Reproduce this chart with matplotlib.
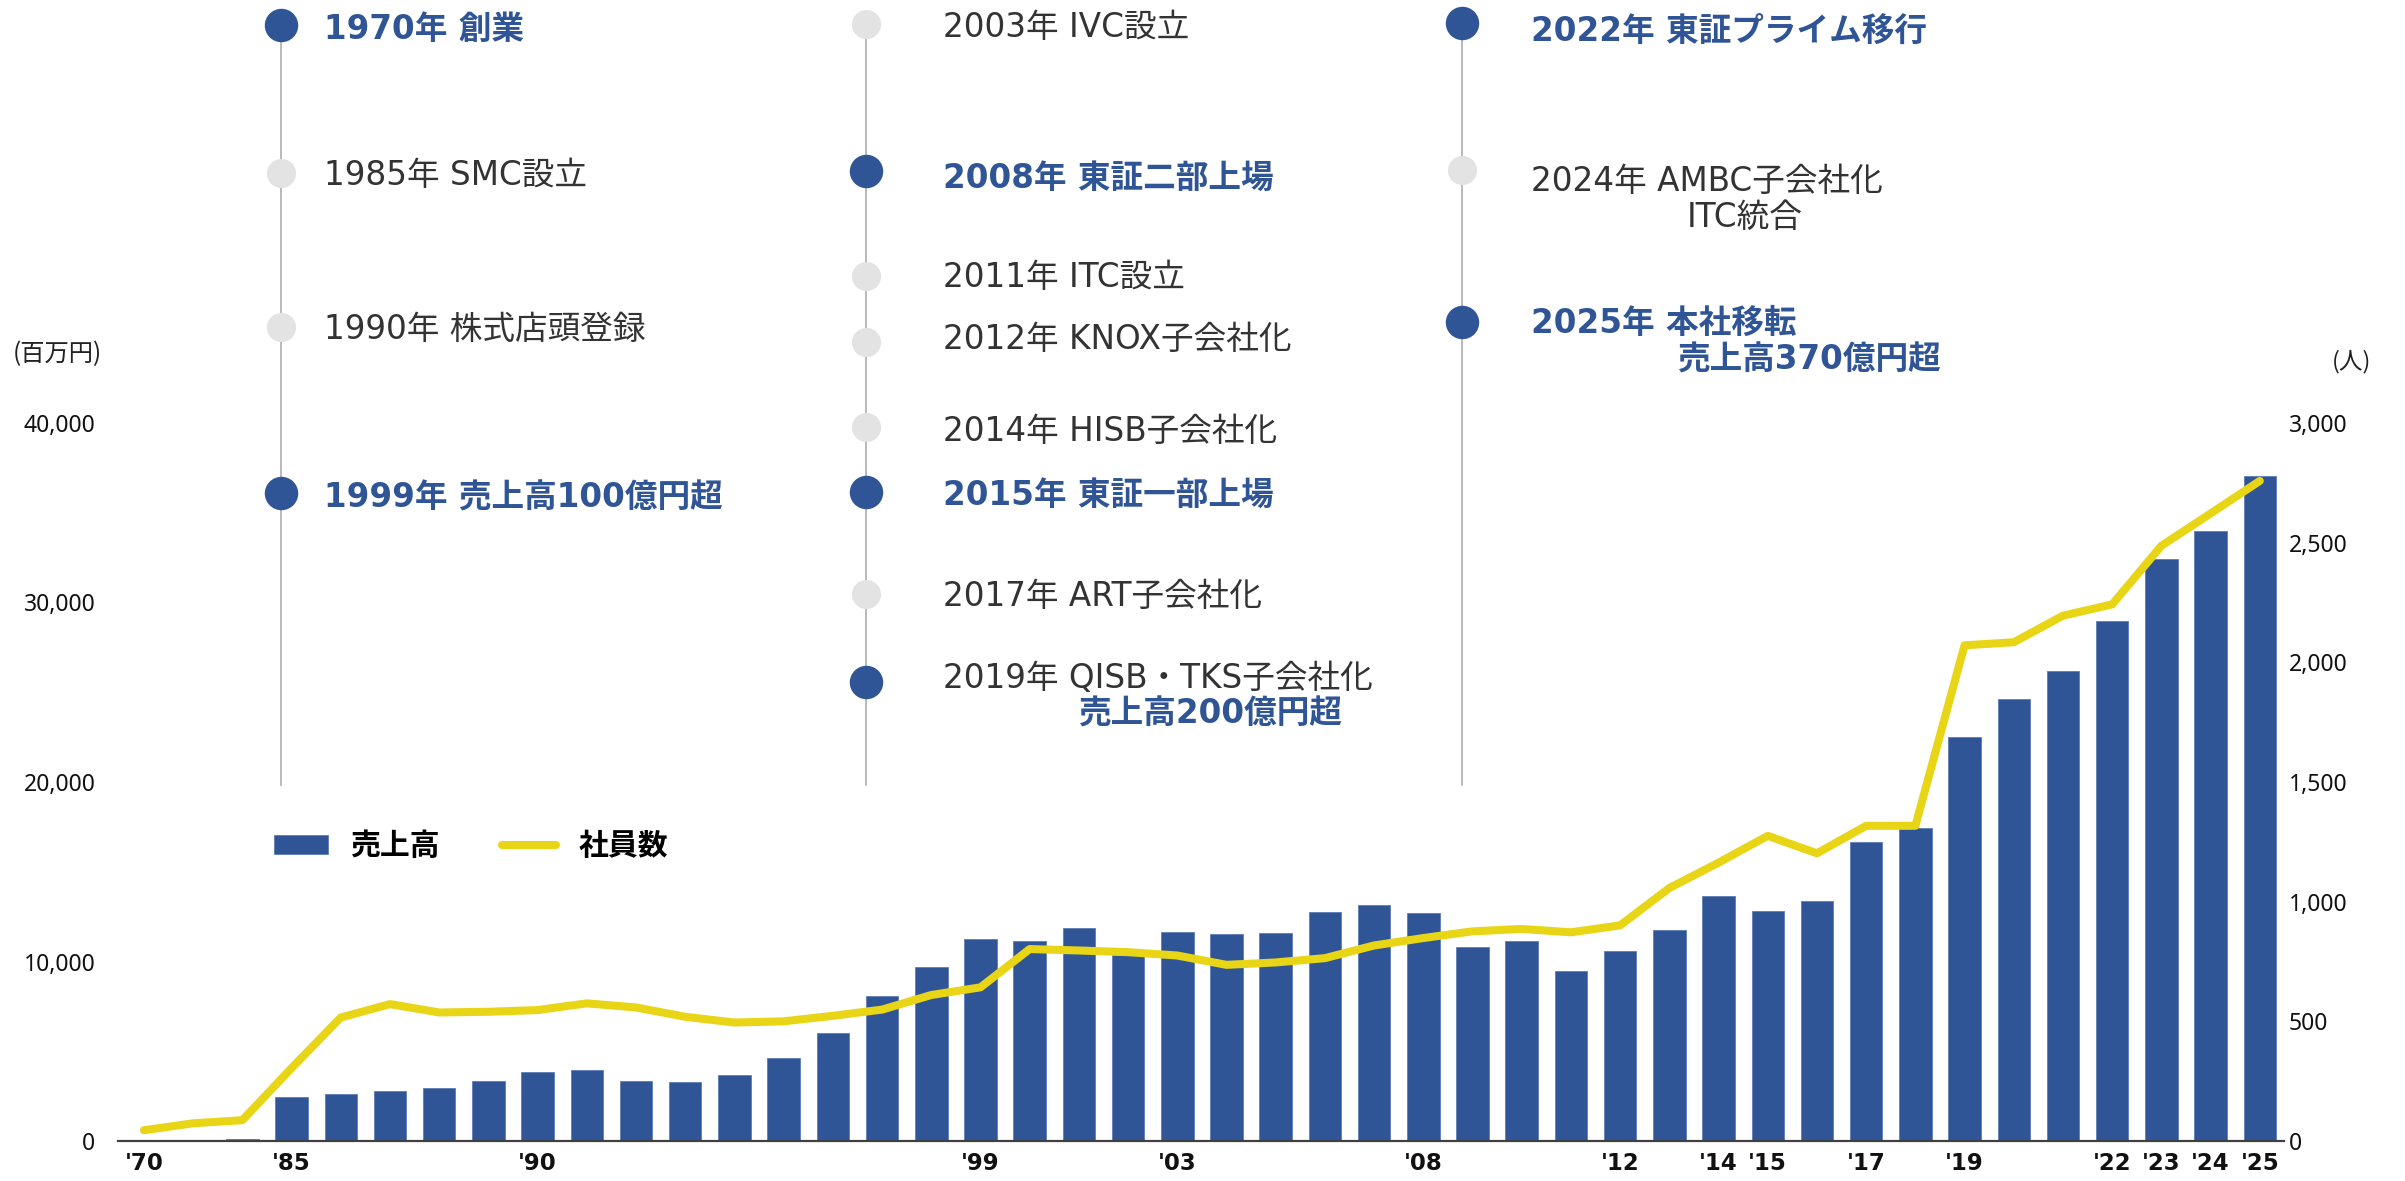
import matplotlib
matplotlib.use("Agg")
import matplotlib.pyplot as plt
from matplotlib.ticker import FuncFormatter

# ---- data ----
tick_labels = ["'70", "", "", "'85", "", "", "", "", "'90", "", "", "", "", "", "", "",
               "", "'99", "", "", "", "'03", "", "", "", "", "'08", "", "", "",
               "'12", "", "'14", "'15", "", "'17", "", "'19", "", "", "'22", "'23",
               "'24", "'25"]

# 売上高 (百万円)
sales = [20, 60, 110,
         2430, 2640, 2770, 2950, 3350,
         3830, 3940, 3350, 3310, 3660,
         4650, 6020, 8090, 9720, 11250,
         11160, 11850, 10370, 11660, 11530,
         11610, 12750, 13160, 12690, 10790,
         11140, 9480, 10590, 11760, 13670,
         12810, 13380, 16650, 17420, 22490,
         24630, 26160, 28950, 32400, 33960,
         37040]

# 社員数 (人)
employees = [45, 74, 87,
             305, 516, 572, 537, 540,
             547, 575, 558, 519, 495,
             500, 523, 549, 610, 642,
             802, 796, 789, 775, 736,
             746, 764, 817, 848, 876,
             886, 872, 901, 1057, 1163,
             1275, 1202, 1317, 1317, 2071,
             2084, 2195, 2242, 2487, 2622,
             2758]

sales_ticks = [0, 10000, 20000, 30000, 40000]
emp_ticks = [0, 500, 1000, 1500, 2000, 2500, 3000]

# milestones, one list per timeline column
col1_events = ["1970年 創業", "1985年 SMC設立", "1990年 株式店頭登録", "1999年 売上高100億円超"]
col1_dot_major = [True, False, False, True]
col1_text_major = [True, False, False, True]

col2_events = ["2003年 IVC設立", "2008年 東証二部上場", "2011年 ITC設立", "2012年 KNOX子会社化",
               "2014年 HISB子会社化", "2015年 東証一部上場", "2017年 ART子会社化",
               "2019年 QISB・TKS子会社化"]
col2_dot_major = [False, True, False, False, False, True, False, True]
col2_text_major = [False, True, False, False, False, True, False, False]

col3_events = ["2022年 東証プライム移行", "2024年 AMBC子会社化", "2025年 本社移転"]
col3_dot_major = [True, False, True]
col3_text_major = [True, False, True]

extra_lines = ["売上高200億円超", "ITC統合", "売上高370億円超"]
extra_major = [True, False, True]

# ---- layout (figure pixels) ----
W, H = 2405, 1181
col_x = [281, 866, 1462]
text_x = [324, 943, 1531]
col1_dot_y = [25, 173, 327, 493]
col1_text_y = [29, 175, 330, 498]
col2_dot_y = [24, 171, 276, 342, 427, 492, 594, 682]
col2_text_y = [28, 178, 277, 339, 431, 495, 596, 679]
col3_dot_y = [23, 170, 322]
col3_text_y = [31, 181, 323]
extra_xy = [(1078, 714), (1687, 217), (1677, 360)]
line_top, line_bottom = 25, 785

BLUE = "#2F5597"
YELLOW = "#E8D516"
DARK = "#333333"
GREY_DOT = "#E3E3E3"
GREY_LINE = "#A6A6A6"
TXT_FONT = ["DejaVu Sans", "Noto Sans CJK JP"]
TXT_SIZE = 23.5

plt.rcParams["font.family"] = ["Noto Sans", "Noto Sans CJK JP"]

fig = plt.figure(figsize=(W / 100, H / 100), dpi=100)
ax = fig.add_axes([118.4 / W, 40 / H, 2166 / W, 718 / H])

x = list(range(len(sales)))
bars = ax.bar(x, sales, width=0.66, color=BLUE, edgecolor="#5E7DB8", linewidth=0.6,
              zorder=2, label="売上高")
ax.set_xlim(-0.52, 43.5)
ax.set_ylim(0, 40000)
ax.set_xticks(x)
ax.set_xticklabels(tick_labels, fontweight="bold", fontsize=16.5, family="DejaVu Sans")
ax.set_yticks(sales_ticks)
ax.yaxis.set_major_formatter(FuncFormatter(lambda v, p: f"{v:,.0f}"))
ax.tick_params(axis="x", length=0, pad=8, colors="#111111")
ax.tick_params(axis="y", length=0, pad=16.5, labelsize=16.5, colors="#111111")
for s in ["top", "left", "right"]:
    ax.spines[s].set_visible(False)
ax.spines["bottom"].set_color("#404040")
ax.spines["bottom"].set_linewidth(1.6)
ax.spines["bottom"].set_zorder(4)

ax2 = ax.twinx()
line, = ax2.plot(x, employees, color=YELLOW, lw=5.8, solid_capstyle="round",
                 solid_joinstyle="round", zorder=3, label="社員数")
ax2.set_ylim(0, 3000)
ax2.set_yticks(emp_ticks)
ax2.yaxis.set_major_formatter(FuncFormatter(lambda v, p: f"{v:,.0f}"))
ax2.tick_params(axis="y", length=0, pad=3, labelsize=16.5, colors="#111111")
for s in ax2.spines.values():
    s.set_visible(False)

fig.text(57 / W, 1 - 354 / H, "(百万円)", ha="center", va="center", fontsize=17.5,
         family=["Noto Sans CJK JP"], color="#222222")
fig.text(2352 / W, 1 - 362 / H, "(人)", ha="center", va="center", fontsize=17,
         family=["Noto Sans CJK JP"], color="#222222")

fig.legend([bars, line], ["売上高", "社員数"], loc="center left",
           bbox_to_anchor=(274 / W, 1 - 846 / H), bbox_transform=fig.transFigure,
           ncol=2, frameon=False, borderpad=0, borderaxespad=0, handlelength=1.8,
           handleheight=0.6, handletextpad=0.75, columnspacing=2.1,
           prop={"family": "Noto Sans CJK JP", "weight": "bold", "size": 21.5})

# ---- timeline overlay ----
tl = fig.add_axes([0, 0, 1, 1])
tl.set_xlim(0, W)
tl.set_ylim(H, 0)
tl.axis("off")
tl.patch.set_alpha(0)

columns = [
    (col1_events, col1_dot_major, col1_text_major, col1_dot_y, col1_text_y),
    (col2_events, col2_dot_major, col2_text_major, col2_dot_y, col2_text_y),
    (col3_events, col3_dot_major, col3_text_major, col3_dot_y, col3_text_y),
]

for i, (events, dot_major, text_major, dot_y, text_y) in enumerate(columns):
    cx = col_x[i]
    tl.plot([cx, cx], [line_top, line_bottom], color=GREY_LINE, lw=1.1, zorder=1)
    for ev, dm, tm, dy, ty in zip(events, dot_major, text_major, dot_y, text_y):
        if dm:
            tl.scatter([cx], [dy], s=580, color=BLUE, zorder=3, linewidths=0)
        else:
            tl.scatter([cx], [dy], s=440, color=GREY_DOT, zorder=3, linewidths=0)
        tl.text(text_x[i], ty, ev, ha="left", va="center", fontsize=TXT_SIZE,
                family=TXT_FONT, color=BLUE if tm else DARK,
                fontweight="bold" if tm else "normal")

for txt, major, (ex, ey) in zip(extra_lines, extra_major, extra_xy):
    tl.text(ex, ey, txt, ha="left", va="center", fontsize=TXT_SIZE, family=TXT_FONT,
            color=BLUE if major else DARK, fontweight="bold" if major else "normal")

fig.savefig("out.png", dpi=100)
